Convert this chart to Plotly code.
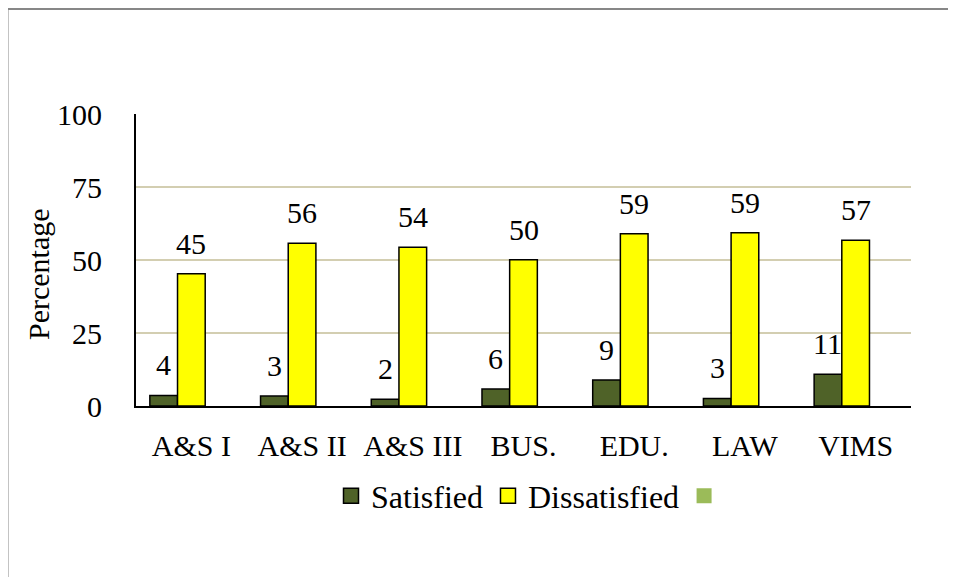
import plotly.graph_objects as go

categories = ["A&S I", "A&S II", "A&S III", "BUS.", "EDU.", "LAW", "VIMS"]
satisfied = [3.6, 3.4, 2.3, 5.8, 8.9, 2.6, 10.9]
dissatisfied = [45.3, 55.7, 54.4, 50.1, 59.0, 59.3, 56.8]
third = [None] * 7
y_ticks = [0, 25, 50, 75, 100]

FONT = "Liberation Serif"
W, H = 956, 577
OFF = 7  # page body margin compensation
PX0, PX1, PY0, PY1 = 135, 910, 113, 405  # target plot area in page pixels
pw, ph = PX1 - PX0, PY1 - PY0
L, T = PX0 - OFF, PY0 - OFF
R, B = W - L - pw, H - T - ph


def px(x):
    return (x - PX0) / pw


def py(y):
    return (PY1 - y) / ph


series = [
    ("Satisfied", satisfied, "#4F6228", "black", 1.5),
    ("Dissatisfied", dissatisfied, "#FFFF00", "black", 1.5),
    (" ", third, "#9BBB59", "#9BBB59", 0),
]

fig = go.Figure()
for name, vals, col, lcol, lw in series:
    fig.add_trace(go.Bar(name=name, x=categories, y=vals, showlegend=False,
                         marker=dict(color=col, line=dict(color=lcol, width=lw))))
# legend proxies (square symbols like the reference)
for name, vals, col, lcol, lw in series:
    fig.add_trace(go.Scatter(name=name, x=[None], y=[None], mode="markers",
                             marker=dict(symbol="square", size=15, color=col,
                                         line=dict(color=lcol, width=lw))))

bargap = 0.25
cat_px = pw / len(categories)
bar_px = cat_px * (1 - bargap) / 3

for c, v in zip(categories, satisfied):
    fig.add_annotation(x=c, y=v, text=f"{v:.0f}", showarrow=False, xref="x", yref="y",
                       yanchor="bottom", xshift=-bar_px, yshift=12,
                       font=dict(family=FONT, size=30, color="black"))
for c, v in zip(categories, dissatisfied):
    fig.add_annotation(x=c, y=v, text=f"{v:.0f}", showarrow=False, xref="x", yref="y",
                       yanchor="bottom", xshift=0, yshift=12,
                       font=dict(family=FONT, size=30, color="black"))

fig.add_annotation(text="Percentage", textangle=-90, showarrow=False,
                   xref="paper", yref="paper", x=px(37), y=py(273),
                   xanchor="center", yanchor="middle",
                   font=dict(family=FONT, size=30, color="black"))

# outer chart border
fig.add_shape(type="rect", xref="paper", yref="paper",
              x0=px(6.5), x1=px(W + 20), y0=py(H + 20), y1=py(8),
              line=dict(color="#878787", width=2), fillcolor="rgba(0,0,0,0)", layer="below")

fig.update_layout(
    width=W, height=H,
    margin=dict(l=L, r=R, t=T, b=B, autoexpand=False),
    barmode="group", bargap=bargap, bargroupgap=0,
    plot_bgcolor="white", paper_bgcolor="white",
    font=dict(family=FONT, size=30, color="black"),
    showlegend=True,
    legend=dict(orientation="h", x=px(330), xanchor="left", y=py(495), yanchor="middle",
                font=dict(family=FONT, size=32, color="black"), traceorder="normal",
                itemwidth=30, bgcolor="rgba(0,0,0,0)"),
    xaxis=dict(showline=True, linecolor="black", linewidth=2, ticks="", showgrid=False,
               tickfont=dict(family=FONT, size=30), ticklabelstandoff=12, automargin=False),
    yaxis=dict(range=[0, 100], tickvals=y_ticks, showline=True, linecolor="black", linewidth=2,
               showgrid=True, gridcolor="#D3CEB1", gridwidth=2, zeroline=False, ticks="",
               tickfont=dict(family=FONT, size=30), ticklabelstandoff=26, automargin=False),
)

fig.write_html("out.html")
